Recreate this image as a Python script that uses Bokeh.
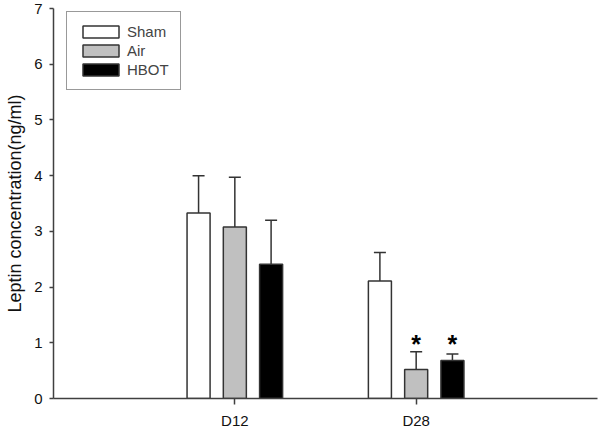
from bokeh.plotting import figure
from bokeh.models import ColumnDataSource, Whisker, TeeHead, FixedTicker, Legend, LegendItem
from bokeh.core.properties import value
from bokeh.embed import file_html
from bokeh.resources import INLINE

# ---- data ----
days = ["D12", "D28"]
groups = ["Sham", "Air", "HBOT"]
sham = [3.33, 2.11]
sham_err = [0.67, 0.51]
air = [3.08, 0.52]
air_err = [0.89, 0.32]
hbot = [2.41, 0.68]
hbot_err = [0.79, 0.12]
fills = ["#ffffff", "#c0c0c0", "#000000"]
y_ticks = [0, 1, 2, 3, 4, 5, 6, 7]
# significance marks (group, day, level)
star_group = ["Air", "HBOT"]
star_day = ["D28", "D28"]
star_y = [1.04, 1.04]

means = {"Sham": sham, "Air": air, "HBOT": hbot}
errs = {"Sham": sham_err, "Air": air_err, "HBOT": hbot_err}

FONT = "Liberation Sans"
AX = "#404040"
BAR_W = 0.127
STEP = 0.2

p = figure(output_backend="svg", toolbar_location=None,
           frame_width=544, frame_height=390,
           min_border_left=53, min_border_right=3, min_border_top=8, min_border_bottom=30,
           x_range=(0, 3), y_range=(0, 7), background_fill_color="white",
           border_fill_color="white")
p.outline_line_color = None
p.xgrid.visible = False
p.ygrid.visible = False

def xpos(day, g):
    return days.index(day) + 1 + (groups.index(g) - 1) * STEP

items = []
for g, fc in zip(groups, fills):
    xs = [xpos(d, g) for d in days]
    src = ColumnDataSource(dict(x=xs, top=means[g],
                                hi=[m + e for m, e in zip(means[g], errs[g])]))
    w = Whisker(base="x", lower="top", upper="hi", source=src, dimension="height",
                line_color="#333333", line_width=1.5, lower_head=None,
                upper_head=TeeHead(size=12, line_color="#333333", line_width=1.5))
    p.add_layout(w)
    r = p.vbar(x="x", top="top", bottom=0, width=BAR_W, source=src,
               fill_color=fc, line_color="#333333", line_width=1.5)
    items.append(LegendItem(label=g, renderers=[r]))

sx = [xpos(d, g) for d, g in zip(star_day, star_group)]
p.text(x=sx, y=star_y, text=["*"] * len(sx), text_align="center", text_baseline="middle",
       text_font=value(FONT), text_font_size="25px", text_font_style="bold",
       text_color="black", y_offset=3)

legend = Legend(items=items, location=(13, 308), padding=11, spacing=2,
                glyph_width=45, glyph_height=15, label_standoff=4, label_width=42,
                label_text_font=FONT, label_text_font_size="15px",
                border_line_color="#333333", border_line_width=1.5,
                background_fill_color="white", background_fill_alpha=1.0, margin=0)
p.add_layout(legend)

# axes
p.yaxis.ticker = FixedTicker(ticks=y_ticks)
p.xaxis.ticker = FixedTicker(ticks=[i + 1 for i in range(len(days))])
p.xaxis.major_label_overrides = {i + 1: d for i, d in enumerate(days)}
for ax in (p.xaxis[0], p.yaxis[0]):
    ax.axis_line_color = AX
    ax.axis_line_width = 1.5
    ax.major_tick_line_color = AX
    ax.major_tick_line_width = 1.5
    ax.minor_tick_line_color = None
    ax.major_tick_in = 0
    ax.major_label_text_font = FONT
    ax.major_label_text_font_size = "15px"
    ax.major_label_text_color = "#111111"
p.yaxis.major_tick_out = 4
p.xaxis.major_tick_out = 6
p.xaxis.major_label_standoff = 7
p.yaxis.major_label_standoff = 7
p.yaxis.axis_label = "Leptin concentration(ng/ml)"
p.yaxis.axis_label_text_font = FONT
p.yaxis.axis_label_text_font_size = "18px"
p.yaxis.axis_label_text_font_style = "normal"
p.yaxis.axis_label_text_color = "#111111"
p.yaxis.axis_label_standoff = 6

open("out.html", "w").write(file_html(p, INLINE))
